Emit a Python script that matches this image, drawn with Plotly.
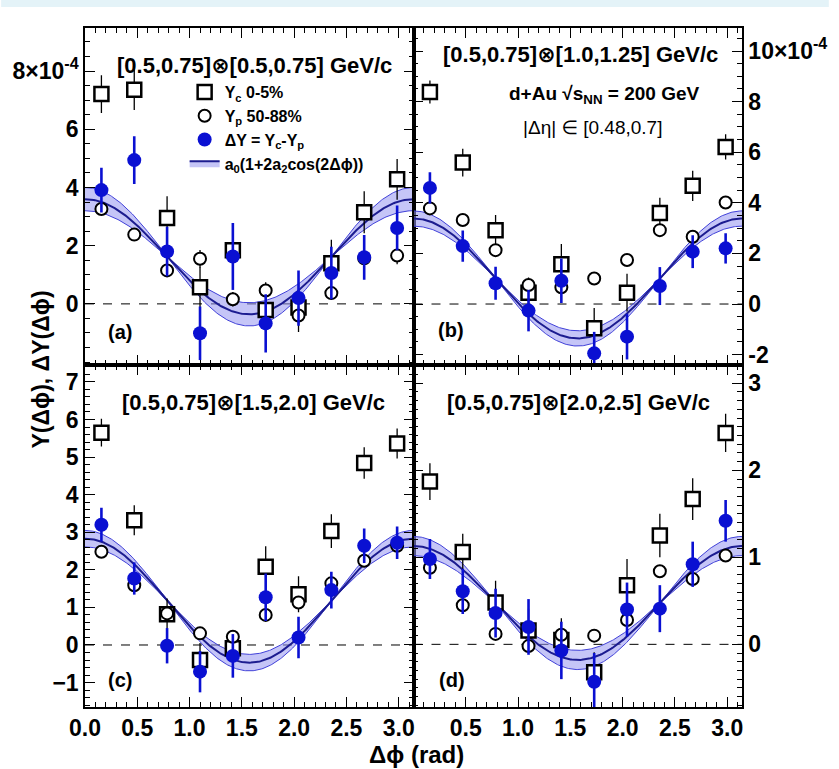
import numpy as np
import plotly.graph_objects as go

# ---------------- data (units of 1e-4) ----------------
phi = [0.157, 0.471, 0.785, 1.100, 1.414, 1.728, 2.042, 2.356, 2.670, 2.985]

yc_a = [7.21, 7.36, 2.95, 0.57, 1.84, -0.21, -0.12, 1.40, 3.15, 4.28]
yc_a_err = [0.65, 0.70, 0.75, 0.70, 0.90, 0.70, 0.85, 0.80, 0.72, 0.70]
yp_a = [3.26, 2.38, 1.15, 1.55, 0.16, 0.46, -0.40, 0.37, 1.57, 1.66]
yp_a_err = [0.20, 0.18, 0.22, 0.30, 0.25, 0.28, 0.30, 0.22, 0.25, 0.30]
dy_a = [3.91, 4.94, 1.80, -1.01, 1.63, -0.67, 0.20, 1.06, 1.60, 2.61]
dy_a_err = [0.77, 0.82, 0.85, 0.92, 1.15, 1.00, 0.95, 0.90, 0.77, 0.77]

yc_b = [8.38, 5.59, 2.92, 0.45, 1.57, -0.96, 0.45, 3.60, 4.67, 6.21]
yc_b_err = [0.45, 0.55, 0.60, 0.55, 0.80, 0.80, 0.75, 0.60, 0.60, 0.50]
yp_b = [3.78, 3.32, 2.13, 0.75, 0.66, 1.01, 1.74, 2.92, 2.66, 4.01]
yp_b_err = [0.15, 0.15, 0.20, 0.30, 0.30, 0.20, 0.20, 0.20, 0.20, 0.15]
dy_b = [4.59, 2.29, 0.82, -0.26, 0.92, -1.95, -1.29, 0.71, 2.07, 2.20]
dy_b_err = [0.62, 0.62, 0.65, 0.82, 0.88, 0.85, 0.90, 0.75, 0.65, 0.60]

yc_c = [5.65, 3.32, 0.82, -0.40, -0.09, 2.08, 1.35, 3.03, 4.84, 5.36]
yc_c_err = [0.37, 0.40, 0.42, 0.45, 0.42, 0.55, 0.48, 0.45, 0.42, 0.40]
yp_c = [2.48, 1.59, 0.84, 0.31, 0.22, 0.80, 1.13, 1.64, 2.24, 2.64]
yp_c_err = [0.08, 0.10, 0.10, 0.10, 0.10, 0.10, 0.10, 0.10, 0.10, 0.10]
dy_c = [3.20, 1.77, -0.02, -0.71, -0.29, 1.27, 0.20, 1.46, 2.64, 2.72]
dy_c_err = [0.45, 0.43, 0.47, 0.55, 0.58, 0.63, 0.55, 0.49, 0.46, 0.43]

yc_d = [1.87, 1.06, 0.48, 0.16, 0.05, -0.32, 0.68, 1.25, 1.67, 2.43]
yc_d_err = [0.21, 0.21, 0.25, 0.25, 0.25, 0.23, 0.30, 0.25, 0.24, 0.22]
yp_d = [0.88, 0.45, 0.12, -0.02, 0.11, 0.10, 0.28, 0.84, 0.75, 1.02]
yp_d_err = [0.05, 0.05, 0.06, 0.06, 0.06, 0.06, 0.07, 0.06, 0.06, 0.05]
dy_d = [0.98, 0.61, 0.36, 0.20, -0.07, -0.43, 0.40, 0.41, 0.92, 1.42]
dy_d_err = [0.23, 0.26, 0.28, 0.32, 0.33, 0.33, 0.31, 0.27, 0.26, 0.24]

# fit parameters a0, a2, error on a2
fit_a0 = [1.62, 1.01, 1.18, 0.475]
fit_a2 = [0.611, 1.173, 0.699, 0.689]
fit_a2_err = [0.123, 0.149, 0.093, 0.116]

titles = ["[0.5,0.75]⊗[0.5,0.75] GeV/c", "[0.5,0.75]⊗[1.0,1.25] GeV/c",
          "[0.5,0.75]⊗[1.5,2.0] GeV/c", "[0.5,0.75]⊗[2.0,2.5] GeV/c"]
panel_tags = ["(a)", "(b)", "(c)", "(d)"]
legend_names = ["Y<sub>c</sub> 0-5%", "Y<sub>p</sub> 50-88%",
                "ΔY = Y<sub>c</sub>-Y<sub>p</sub>", "a<sub>0</sub>(1+2a<sub>2</sub>cos(2Δϕ))"]

# ---------------- styling ----------------
FONT = "Liberation Sans, Arial, Helvetica, DejaVu Sans, sans-serif"
BLUE = "#0a10d2"
BAND_FILL = "rgba(150,150,240,0.55)"
BAND_EDGE = "#4040d8"
CURVE = "#1c1c90"

W, H = 839, 769
L, R, T, B = 85, 88, 28, 62
PW, PH = W - L - R, H - T - B


def px(xp):
    return (xp - L) / PW


def py(yp):
    return (H - B - yp) / PH


fig = go.Figure()

panels = [
    (yc_a, yc_a_err, yp_a, yp_a_err, dy_a, dy_a_err),
    (yc_b, yc_b_err, yp_b, yp_b_err, dy_b, dy_b_err),
    (yc_c, yc_c_err, yp_c, yp_c_err, dy_c, dy_c_err),
    (yc_d, yc_d_err, yp_d, yp_d_err, dy_d, dy_d_err),
]

xs = np.linspace(0, np.pi, 300)
for i, (yc, yce, yp, ype, dy, dye) in enumerate(panels):
    xa = "x" if i == 0 else f"x{i+1}"
    ya = "y" if i == 0 else f"y{i+1}"
    a0, a2, da2 = fit_a0[i], fit_a2[i], fit_a2_err[i]
    c2 = np.cos(2 * xs)
    hi = a0 * (1 + 2 * (a2 + da2) * c2)
    lo = a0 * (1 + 2 * (a2 - da2) * c2)
    upper = np.maximum(hi, lo)
    lower = np.minimum(hi, lo)
    mid = a0 * (1 + 2 * a2 * c2)
    show = i == 0
    fig.add_trace(go.Scatter(x=xs, y=lower, mode="lines", line=dict(color=BAND_EDGE, width=1),
                             xaxis=xa, yaxis=ya, showlegend=False, hoverinfo="skip"))
    fig.add_trace(go.Scatter(x=xs, y=upper, mode="lines", line=dict(color=BAND_EDGE, width=1),
                             fill="tonexty", fillcolor=BAND_FILL,
                             xaxis=xa, yaxis=ya, showlegend=False, hoverinfo="skip"))
    fig.add_trace(go.Scatter(x=xs, y=mid, mode="lines", line=dict(color=CURVE, width=2),
                             xaxis=xa, yaxis=ya, showlegend=False, hoverinfo="skip"))
    fig.add_trace(go.Scatter(
        x=phi, y=yc, mode="markers", xaxis=xa, yaxis=ya,
        name=legend_names[0], showlegend=show, legendrank=1, legendgroup="g1",
        marker=dict(symbol="square", size=14, color="white", line=dict(color="black", width=2.5)),
        error_y=dict(type="data", array=yce, color="black", thickness=1.3, width=0)))
    fig.add_trace(go.Scatter(
        x=phi, y=yp, mode="markers", xaxis=xa, yaxis=ya,
        name=legend_names[1], showlegend=show, legendrank=2, legendgroup="g2",
        marker=dict(symbol="circle", size=12, color="white", line=dict(color="black", width=2)),
        error_y=dict(type="data", array=ype, color="black", thickness=1.3, width=0)))
    fig.add_trace(go.Scatter(
        x=phi, y=dy, mode="markers", xaxis=xa, yaxis=ya,
        name=legend_names[2], showlegend=show, legendrank=3, legendgroup="g3",
        marker=dict(symbol="circle", size=14, color=BLUE),
        error_y=dict(type="data", array=dye, color=BLUE, thickness=2.6, width=0)))

# legend entry for the fit band
fig.add_trace(go.Scatter(x=[None], y=[None], mode="lines", fill="toself", fillcolor=BAND_FILL,
                         line=dict(color=CURVE, width=2), legendrank=4, legendgroup="g4",
                         name=legend_names[3]))

tickfont = dict(family=FONT, size=23, color="black", weight="bold")

xcommon = dict(range=[0, np.pi], ticks="inside", ticklen=10, tickwidth=1.2, tickcolor="black",
               showline=True, linecolor="black", linewidth=1.5, mirror="ticks",
               showgrid=False, zeroline=False, tickfont=tickfont,
               tickvals=[0, 0.5, 1.0, 1.5, 2.0, 2.5, 3.0],
               minor=dict(dtick=0.1, tick0=0, ticks="inside", ticklen=5, tickcolor="black", tickwidth=1.2))

ycommon = dict(ticks="inside", ticklen=10, tickwidth=1.2, tickcolor="black",
               showline=True, linecolor="black", linewidth=1.5, mirror="ticks",
               showgrid=False, zeroline=False, tickfont=tickfont)

top_dom = [py(365), 1.0]
bot_dom = [0.0, py(365)]

fig.update_layout(
    width=W, height=H, margin=dict(l=L, r=R, t=T, b=B),
    paper_bgcolor="white", plot_bgcolor="rgba(0,0,0,0)",
    font=dict(family=FONT, color="black"),
    xaxis=dict(xcommon, domain=[0, 0.5], anchor="y", showticklabels=False),
    xaxis2=dict(xcommon, domain=[0.5, 1], anchor="y2", showticklabels=False),
    xaxis3=dict(xcommon, domain=[0, 0.5], anchor="y3",
                ticktext=["0.0", "0.5", "1.0", "1.5", "2.0", "2.5", "3.0"]),
    xaxis4=dict(xcommon, domain=[0.5, 1], anchor="y4",
                ticktext=["", "0.5", "1.0", "1.5", "2.0", "2.5", "3.0"]),
    yaxis=dict(ycommon, domain=top_dom, anchor="x", range=[-2.1, 9.48],
               tickvals=[0, 2, 4, 6, 8],
               ticktext=["0", "2", "4", "6", "8×10<sup>-4</sup>"],
               minor=dict(dtick=0.5, tick0=0, ticks="inside", ticklen=5, tickcolor="black", tickwidth=1.2)),
    yaxis2=dict(ycommon, domain=top_dom, anchor="x2", side="right", range=[-2.41, 10.91],
                tickvals=[-2, 0, 2, 4, 6, 8, 10],
                ticktext=["-2", "0", "2", "4", "6", "8", "10×10<sup>-4</sup>"],
                minor=dict(dtick=0.5, tick0=0, ticks="inside", ticklen=5, tickcolor="black", tickwidth=1.2)),
    yaxis3=dict(ycommon, domain=bot_dom, anchor="x3", range=[-1.65, 7.45],
                tickvals=[-1, 0, 1, 2, 3, 4, 5, 6, 7],
                minor=dict(dtick=0.2, tick0=0, ticks="inside", ticklen=5, tickcolor="black", tickwidth=1.2)),
    yaxis4=dict(ycommon, domain=bot_dom, anchor="x4", side="right", range=[-0.72, 3.21],
                tickvals=[0, 1, 2, 3],
                minor=dict(dtick=0.1, tick0=0, ticks="inside", ticklen=5, tickcolor="black", tickwidth=1.2)),
    legend=dict(x=px(186), y=py(75), xanchor="left", yanchor="top", traceorder="normal",
                bgcolor="rgba(0,0,0,0)", itemwidth=30, tracegroupgap=4,
                font=dict(family=FONT, size=16, color="black", weight="bold")),
    showlegend=True,
)

# dashed zero lines
for i in range(4):
    xa = "x" if i == 0 else f"x{i+1}"
    ya = "y" if i == 0 else f"y{i+1}"
    fig.add_shape(type="line", xref=f"{xa} domain", yref=ya, x0=0, x1=1, y0=0, y1=0,
                  line=dict(color="black", width=1, dash="dash"), layer="below")

# top light strip of the slide background
fig.add_shape(type="rect", xref="paper", yref="paper", x0=px(0), x1=px(W), y0=py(7), y1=py(0),
              fillcolor="#e4f3f8", line=dict(width=0), layer="below")

ann = []
title_pos = [(257, 65), (587, 55), (256, 402), (585, 402)]
for t, (x, y) in zip(titles, title_pos):
    ann.append(dict(text=t, x=px(x), y=py(y), xref="paper", yref="paper", showarrow=False,
                    font=dict(family=FONT, size=22, weight="bold"), xanchor="center", yanchor="middle"))
tag_pos = [(120, 332), (456, 330), (120, 680), (457, 680)]
for t, (x, y) in zip(panel_tags, tag_pos):
    ann.append(dict(text=t, x=px(x), y=py(y), xref="paper", yref="paper", showarrow=False,
                    font=dict(family=FONT, size=20, weight="bold"), xanchor="center", yanchor="middle"))
ann.append(dict(text="d+Au √s<sub>NN</sub> = 200 GeV", x=px(612), y=py(95), xref="paper", yref="paper",
                showarrow=False, font=dict(family=FONT, size=19, weight="bold"),
                xanchor="center", yanchor="middle"))
ann.append(dict(text="|Δη| ∈ [0.48,0.7]", x=px(599), y=py(127), xref="paper", yref="paper",
                showarrow=False, font=dict(family=FONT, size=19),
                xanchor="center", yanchor="middle"))
ann.append(dict(text="Y(Δϕ), ΔY(Δϕ)", x=px(40), y=py(370), xref="paper", yref="paper",
                showarrow=False, textangle=-90, font=dict(family=FONT, size=23, weight="bold"),
                xanchor="center", yanchor="middle"))
ann.append(dict(text="Δϕ (rad)", x=px(421), y=py(754), xref="paper", yref="paper",
                showarrow=False, font=dict(family=FONT, size=24, weight="bold"),
                xanchor="center", yanchor="middle"))
fig.update_layout(annotations=ann)

fig.write_html("out.html")
